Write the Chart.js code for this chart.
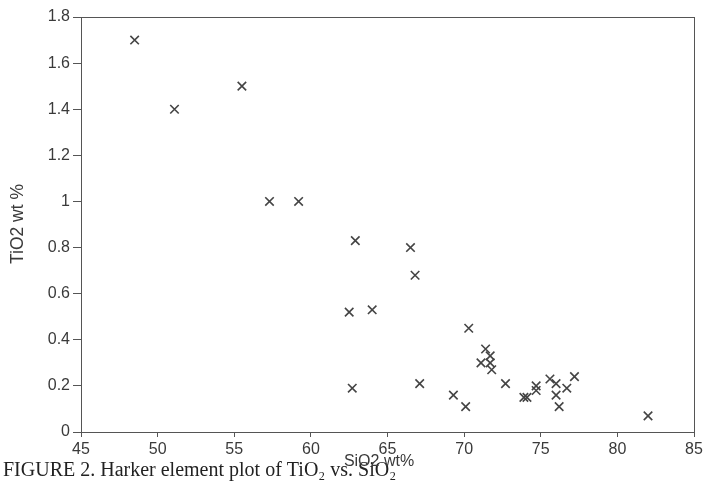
<!DOCTYPE html>
<html>
<head>
<meta charset="utf-8">
<script src="https://cdn.jsdelivr.net/npm/chart.js@4/dist/chart.umd.min.js"></script>
<style>
  html, body { margin: 0; padding: 0; background: #fff; }
  #wrap { width: 706px; height: 486px; position: relative; }
</style>
</head>
<body>
<div id="wrap"><canvas id="c" width="706" height="486"></canvas></div>
<script>
// Harker diagram: SiO2 (wt%) against TiO2 (wt%)
const sio2 = [48.5, 51.1, 55.5, 57.3, 59.2, 62.9, 66.5, 66.8, 62.5, 64.0,
              70.3, 62.7, 67.1, 69.3, 70.1, 71.4, 71.7, 71.1, 71.7, 71.8,
              72.7, 73.9, 74.1, 74.7, 74.7, 75.6, 76.0, 76.0, 76.2, 76.7,
              77.2, 82.0];
const tio2 = [1.70, 1.40, 1.50, 1.00, 1.00, 0.83, 0.80, 0.68, 0.52, 0.53,
              0.45, 0.19, 0.21, 0.16, 0.11, 0.36, 0.33, 0.30, 0.30, 0.27,
              0.21, 0.15, 0.15, 0.20, 0.18, 0.23, 0.21, 0.16, 0.11, 0.19,
              0.24, 0.07];
const xTicks = [45, 50, 55, 60, 65, 70, 75, 80, 85];
const yTicks = [0, 0.2, 0.4, 0.6, 0.8, 1, 1.2, 1.4, 1.6, 1.8];

const xTitle = 'SiO2 wt%';
const yTitle = 'TiO2 wt %';
const caption = 'FIGURE 2. Harker element plot of TiO\u2082 vs. SiO\u2082';

const points = sio2.map((x, i) => ({ x: x, y: tio2[i] }));
const ink = '#3a3a3a';
const sans = '"Liberation Sans", Arial, sans-serif';

const frameAndText = {
  id: 'frameAndText',
  afterDraw(chart) {
    const { ctx, chartArea: a } = chart;
    ctx.save();
    // plot frame
    ctx.strokeStyle = '#555';
    ctx.lineWidth = 1;
    ctx.strokeRect(a.left + 0.5, a.top + 0.5, a.right - a.left, a.bottom - a.top);
    // figure caption
    ctx.fillStyle = '#222';
    ctx.font = '20px "Liberation Serif", "Times New Roman", serif';
    ctx.textAlign = 'left';
    ctx.textBaseline = 'alphabetic';
    ctx.fillText(caption, 3, 476);
    // axis titles
    ctx.fillStyle = ink;
    ctx.font = '16px ' + sans;
    ctx.textAlign = 'center';
    ctx.fillText(xTitle, 379, 466);
    ctx.save();
    ctx.translate(23, 224);
    ctx.rotate(-Math.PI / 2);
    ctx.font = '17.5px ' + sans;
    ctx.fillText(yTitle, 0, 0);
    ctx.restore();
    ctx.restore();
  }
};

new Chart(document.getElementById('c'), {
  type: 'scatter',
  data: {
    datasets: [{
      data: points,
      pointStyle: 'crossRot',
      pointRadius: 6,
      pointHoverRadius: 6,
      borderColor: '#444',
      backgroundColor: '#444',
      pointBorderWidth: 1.6
    }]
  },
  options: {
    responsive: false,
    animation: false,
    devicePixelRatio: 1,
    layout: { padding: { top: 17, right: 12, left: 0, bottom: 0 } },
    plugins: { legend: { display: false }, tooltip: { enabled: false } },
    scales: {
      x: {
        type: 'linear',
        min: 45, max: 85,
        afterBuildTicks(s) { s.ticks = xTicks.map(v => ({ value: v })); },
        afterFit(s) { s.height = 54; },
        grid: { display: true, drawOnChartArea: false, tickLength: 5, color: '#555' },
        border: { display: true, color: '#555' },
        ticks: { color: ink, font: { family: sans, size: 16 }, padding: 3, maxRotation: 0 }
      },
      y: {
        type: 'linear',
        min: 0, max: 1.8,
        afterBuildTicks(s) { s.ticks = yTicks.map(v => ({ value: v })); },
        afterFit(s) { s.width = 81; },
        grid: { display: true, drawOnChartArea: false, tickLength: 8, color: '#555' },
        border: { display: true, color: '#555' },
        ticks: {
          color: ink, font: { family: sans, size: 16 }, padding: 3,
          callback: v => String(Math.round(v * 10) / 10)
        }
      }
    }
  },
  plugins: [frameAndText]
});
</script>
</body>
</html>
